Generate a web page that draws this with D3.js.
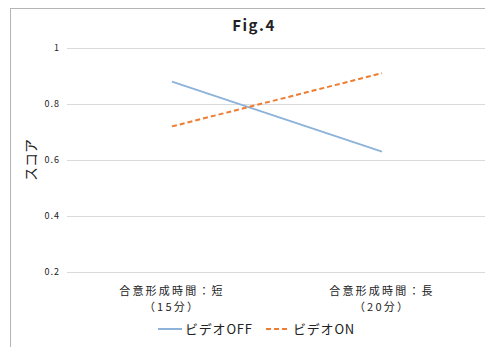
<!DOCTYPE html>
<html>
<head>
<meta charset="utf-8">
<script src="https://cdn.jsdelivr.net/npm/d3@7"></script>
<style>
  html, body { margin: 0; padding: 0; background: #fff; overflow: hidden; }
  svg { display: block; }
  text { font-family: "Noto Sans CJK JP", "DejaVu Sans", sans-serif; fill: #222; }
</style>
</head>
<body>
<svg id="chart" width="485" height="347"></svg>
<script>
// Score by consensus-building time, with and without video
const categories = ["合意形成時間：短\n（15分）", "合意形成時間：長\n（20分）"];
const seriesNames = ["ビデオOFF", "ビデオON"];
const videoOff = [0.88, 0.63];
const videoOn = [0.72, 0.91];
const yTicks = [0.2, 0.4, 0.6, 0.8, 1];
const yTickLabels = ["0.2", "0.4", "0.6", "0.8", "1"];
const titleText = "Fig.4";
const yTitle = "スコア";

const svg = d3.select("#chart");
const colors = ["#8eb3da", "#ed7d31"];
const dashes = [null, "5,3"];

// chart frame (extends past the window on the right and bottom)
svg.append("rect")
  .attr("x", 10.5).attr("y", 8.5)
  .attr("width", 500).attr("height", 360)
  .attr("fill", "#fff").attr("stroke", "#b5b5b5").attr("stroke-width", 1);

const plot = { left: 67, right: 487, top: 48, bottom: 272 };

const x = d3.scaleBand().domain(d3.range(categories.length))
  .range([plot.left, plot.right]);
const y = d3.scaleLinear().domain([0.2, 1]).range([plot.bottom, plot.top]);

// gridlines
svg.append("g").selectAll("line").data(yTicks).join("line")
  .attr("x1", plot.left).attr("x2", plot.right)
  .attr("y1", d => Math.round(y(d)) + 0.5).attr("y2", d => Math.round(y(d)) + 0.5)
  .attr("stroke", "#dadada").attr("stroke-width", 1);

// y tick labels
svg.append("g").selectAll("text").data(yTicks).join("text")
  .attr("x", 60).attr("y", d => y(d))
  .attr("dy", "0.35em")
  .attr("text-anchor", "end")
  .attr("font-size", 9)
  .attr("letter-spacing", 1)
  .attr("fill", "#444")
  .text((d, i) => yTickLabels[i]);

// category labels (two lines each)
const catG = svg.append("g");
categories.forEach((c, i) => {
  c.split("\n").forEach((lineText, j) => {
    catG.append("text")
      .attr("x", x(i) + x.bandwidth() / 2)
      .attr("y", 295 + j * 16)
      .attr("text-anchor", "middle")
      .attr("font-size", 11)
      .attr("letter-spacing", 2.2)
      .attr("fill", "#333")
      .text(lineText);
  });
});

// series lines
const line = d3.line()
  .x((d, i) => x(i) + x.bandwidth() / 2)
  .y(d => y(d));
[videoOff, videoOn].forEach((s, k) => {
  svg.append("path")
    .datum(s)
    .attr("d", line)
    .attr("fill", "none")
    .attr("stroke", colors[k])
    .attr("stroke-width", 2)
    .attr("stroke-dasharray", dashes[k]);
});

// title
svg.append("text")
  .attr("x", 254).attr("y", 31)
  .attr("text-anchor", "middle")
  .attr("font-size", 15)
  .attr("font-weight", "bold")
  .attr("letter-spacing", 1.5)
  .attr("fill", "#111")
  .text(titleText);

// y axis title
svg.append("text")
  .attr("transform", `translate(36,${(plot.top + plot.bottom) / 2}) rotate(-90)`)
  .attr("text-anchor", "middle")
  .attr("font-size", 14)
  .attr("fill", "#111")
  .text(yTitle);

// legend
const legendItems = [
  { x: 158, tx: 185 },
  { x: 266, tx: 293 }
];
seriesNames.forEach((name, k) => {
  const it = legendItems[k];
  svg.append("line")
    .attr("x1", it.x).attr("x2", it.x + 24)
    .attr("y1", 329).attr("y2", 329)
    .attr("stroke", colors[k]).attr("stroke-width", 2)
    .attr("stroke-dasharray", dashes[k]);
  svg.append("text")
    .attr("x", it.tx).attr("y", 329)
    .attr("dy", "0.35em")
    .attr("font-size", 13)
    .attr("letter-spacing", 0.8)
    .attr("fill", "#111")
    .text(name);
});
</script>
</body>
</html>
